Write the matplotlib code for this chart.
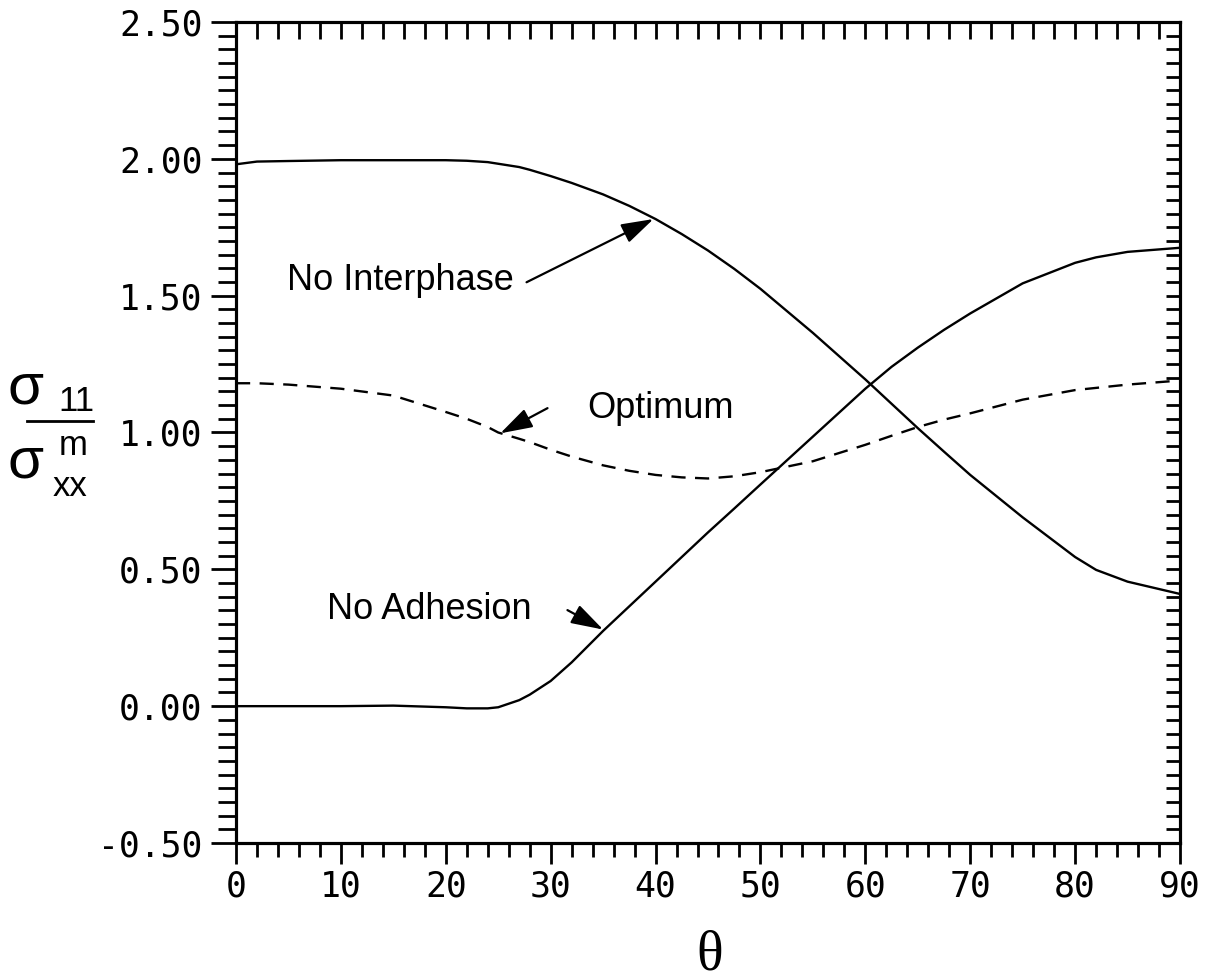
import matplotlib
matplotlib.use("Agg")
import matplotlib.pyplot as plt
from matplotlib.ticker import MultipleLocator, FuncFormatter

# angle theta (deg) and normalised fibre stress for the three interface cases
theta = [0, 2, 5, 10, 15, 20, 22, 24, 25, 27, 28, 30, 32, 35, 37.5, 40, 42.5, 45, 47.5, 50,
         55, 60, 62.5, 65, 67.5, 70, 75, 80, 82, 85, 90]

no_interphase = [1.98, 1.99, 1.992, 1.995, 1.995, 1.995, 1.993, 1.988, 1.982, 1.97, 1.96, 1.937,
                 1.912, 1.87, 1.828, 1.78, 1.725, 1.665, 1.598, 1.525, 1.364, 1.194, 1.105,
                 1.016, 0.93, 0.845, 0.69, 0.545, 0.498, 0.455, 0.41]

no_adhesion = [0.0, 0.0, 0.0, 0.0, 0.002, -0.004, -0.008, -0.008, -0.004, 0.022, 0.042, 0.092,
               0.16, 0.275, 0.365, 0.455, 0.545, 0.635, 0.722, 0.81, 0.985, 1.16, 1.24,
               1.31, 1.375, 1.435, 1.545, 1.62, 1.64, 1.66, 1.675]

optimum = [1.18, 1.18, 1.175, 1.16, 1.135, 1.075, 1.05, 1.02, 1.0, 0.977, 0.965, 0.937, 0.912,
           0.88, 0.86, 0.845, 0.836, 0.832, 0.84, 0.855, 0.895, 0.955, 0.988, 1.02, 1.047,
           1.07, 1.12, 1.155, 1.163, 1.175, 1.19]

xlim = (0, 90)
ylim = (-0.5, 2.5)

W, H = 1207, 980
fig = plt.figure(figsize=(W / 100, H / 100), dpi=100)
ax = fig.add_axes([236 / W, 1 - 843 / H, (1180 - 236) / W, (843 - 22) / H])

lw = 1.7
ax.plot(theta, no_interphase, color="k", lw=lw)
ax.plot(theta, no_adhesion, color="k", lw=lw)
ax.plot(theta, optimum, color="k", lw=lw, ls=(0, (6, 4)))

ax.set_xlim(*xlim)
ax.set_ylim(*ylim)

for s in ax.spines.values():
    s.set_linewidth(2.2)

mono = "DejaVu Sans Mono"
ax.xaxis.set_major_locator(MultipleLocator(10))
ax.xaxis.set_minor_locator(MultipleLocator(2))
ax.yaxis.set_major_locator(MultipleLocator(0.5))
ax.yaxis.set_minor_locator(MultipleLocator(0.05))
ax.yaxis.set_major_formatter(FuncFormatter(lambda v, p: f"{v:.2f}"))
ax.xaxis.set_major_formatter(FuncFormatter(lambda v, p: f"{v:.0f}"))

ax.tick_params(axis="x", which="major", direction="out", length=15, width=2, pad=4,
               labelsize=25, top=False)
ax.tick_params(axis="x", which="minor", direction="out", length=10, width=2, top=False)
ax.tick_params(axis="y", which="major", direction="out", length=18, width=2, pad=6,
               labelsize=25, right=False)
ax.tick_params(axis="y", which="minor", direction="out", length=13, width=2, right=False)
for lab in ax.get_xticklabels() + ax.get_yticklabels():
    lab.set_family(mono)

# top and right edges carry inward ticks only
top = ax.twiny()
top.set_xlim(*xlim)
top.xaxis.set_major_locator(MultipleLocator(2))
top.tick_params(axis="x", direction="in", length=12, width=2, labeltop=False)
right = ax.twinx()
right.set_ylim(*ylim)
right.yaxis.set_major_locator(MultipleLocator(0.05))
right.tick_params(axis="y", direction="in", length=10, width=2, labelright=False)
for a in (top, right):
    for s in a.spines.values():
        s.set_linewidth(2.2)

# curve labels with arrows
lab_font = dict(family="Liberation Sans", fontsize=26, va="center", ha="left")
arrow = dict(arrowstyle="-|>,head_length=0.9,head_width=0.28", color="k", lw=1.6,
             mutation_scale=22, shrinkA=0, shrinkB=0)

ax.text(4.86, 1.556, "No Interphase", **lab_font)
ax.annotate("", xy=(39.8, 1.78), xytext=(27.7, 1.549), arrowprops=arrow)

ax.text(33.5, 1.089, "Optimum", **lab_font)
ax.annotate("", xy=(25.2, 0.997), xytext=(29.7, 1.089), arrowprops=arrow)

ax.text(8.7, 0.355, "No Adhesion", **lab_font)
ax.annotate("", xy=(35.0, 0.28), xytext=(31.6, 0.351), arrowprops=arrow)

# y label: sigma_11 over sigma_xx^m, laid out by hand
def ftext(x, y, s, size, **kw):
    fig.text(x / W, 1 - y / H, s, fontsize=size, family="Liberation Sans",
             ha="left", va="baseline", **kw)

ftext(8, 403, "σ", 42)
ftext(58, 411, "11", 25)
fig.add_artist(plt.Line2D([27 / W, 93 / W], [1 - 421 / H, 1 - 421 / H],
                          color="k", lw=2, transform=fig.transFigure))
ftext(8, 477, "σ", 42)
ftext(59, 455, "m", 25)
ftext(53, 496, "xx", 25)

# x label
fig.text(710 / W, 1 - 955 / H, "θ", fontsize=40, family="Liberation Serif",
         ha="center", va="center")

fig.savefig("out.png", dpi=100)
